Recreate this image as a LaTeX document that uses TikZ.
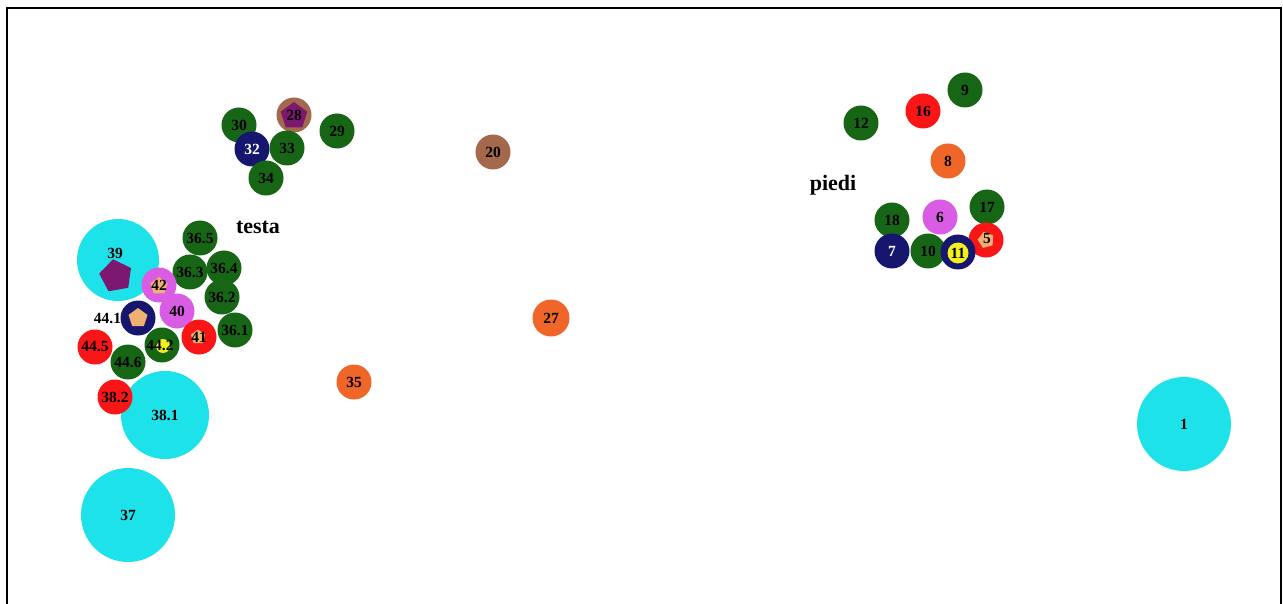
\documentclass[tikz,border=0pt]{standalone}
\usepackage{fontspec}
\setmainfont{Liberation Serif}
\usetikzlibrary{shapes.geometric}
\definecolor{cgreen}{RGB}{22,102,22}
\definecolor{cnavy}{RGB}{22,22,110}
\definecolor{cred}{RGB}{250,22,22}
\definecolor{ccyan}{RGB}{30,226,234}
\definecolor{cviolet}{RGB}{218,92,228}
\definecolor{corange}{RGB}{240,102,40}
\definecolor{cbrown}{RGB}{164,104,76}
\definecolor{cpurple}{RGB}{124,24,112}
\definecolor{cpeach}{RGB}{240,176,112}
\definecolor{cyellow}{RGB}{240,240,30}
\tikzset{
  lbl/.style={font=\bfseries\fontsize{15.5}{16}\selectfont},
  dot/.style={circle, minimum size=35pt, inner sep=0pt, lbl, text=black},
  green/.style={dot, fill=cgreen},
  navy/.style={dot, fill=cnavy, text=white},
  red/.style={dot, fill=cred},
  cyan/.style={dot, fill=ccyan},
  violet/.style={dot, fill=cviolet},
  orange/.style={dot, fill=corange},
  brown/.style={dot, fill=cbrown},
  pent/.style={regular polygon, regular polygon sides=5, inner sep=0pt},
  big/.style={minimum size=#1},
  word/.style={font=\bfseries\fontsize{22}{24}\selectfont}
}
\begin{document}
\begin{tikzpicture}[x=1pt,y=-1pt]
\useasboundingbox (0,0) rectangle (1283,604);
\draw[line width=1.8pt] (7,606) -- (7,8) -- (1281,8) -- (1281,606);
% top-left cluster
\node[green] (n30) at (239,125) {30};
\node[brown] (n28) at (294,115) {};
\node[pent, fill=cpurple, minimum size=28pt] (p28) at (294,116) {};
\node[lbl] (t28) at (294,115) {28};
\node[green] (n29) at (337,131) {29};
\node[navy] (n32) at (252,149) {32};
\node[green] (n33) at (287,148) {33};
\node[green] (n34) at (266,178) {34};
\node[brown] (n20) at (493,152) {20};
\node[word] (testa) at (258,227) {testa};
% left cluster
\node[cyan, big=82pt] (n39) at (118,260) {};
\node[pent, fill=cpurple, minimum size=34pt, rotate=10] (p39) at (116,276) {};
\node[lbl] (t39) at (115,253) {39};
\node[green] (n365) at (200,238) {36.5};
\node[green] (n364) at (224,268) {36.4};
\node[green] (n363) at (190,272) {36.3};
\node[green] (n362) at (222,297) {36.2};
\node[green] (n361) at (235,330) {36.1};
\node[violet] (n42) at (159,285) {};
\node[pent, fill=cpeach, minimum size=18pt] (p42) at (159,286) {};
\node[lbl] (t42) at (159,285) {42};
\node[violet] (n40) at (177,311) {40};
\node[red] (n41) at (199,337) {};
\node[pent, fill=cpeach, minimum size=15pt] (p41) at (198,337) {};
\node[lbl] (t41) at (199,337) {41};
\node[navy, label={[lbl, text=black, inner sep=0pt, xshift=1pt]left:44.1}] (n441) at (138,318) {};
\node[pent, fill=cpeach, minimum size=20pt] (p441) at (138,318) {};
\node[green] (n442) at (162,345) {};
\node[circle, fill=cyellow, minimum size=14pt, inner sep=0pt] (y442) at (163,346) {};
\node[lbl] (t442) at (160,345) {44.2};
\node[red] (n445) at (95,347) {44.5};
\node[cyan, big=88pt] (n381) at (165,415) {38.1};
\node[green] (n446) at (128,362) {44.6};
\node[red] (n382) at (115,397) {38.2};
\node[cyan, big=94pt] (n37) at (128,515) {37};
\node[orange] (n35) at (354,382) {35};
\node[orange, minimum size=37pt] (n27) at (551,318) {27};
\node[cyan, big=94pt] (n1) at (1184,424) {1};
% right cluster
\node[green] (n9) at (965,90) {9};
\node[red] (n16) at (923,111) {16};
\node[green] (n12) at (861,123) {12};
\node[orange] (n8) at (948,161) {8};
\node[word] (piedi) at (833,185) {piedi};
\node[green] (n17) at (987,207) {17};
\node[violet] (n6) at (940,217) {6};
\node[green] (n18) at (892,220) {18};
\node[red] (n5) at (986,240) {};
\node[pent, fill=cpeach, minimum size=17pt, rotate=15] (p5) at (986,240) {};
\node[lbl] (t5) at (987,239) {5};
\node[navy] (n7) at (892,251) {7};
\node[green] (n10) at (928,251) {10};
\node[navy] (n11) at (958,252) {};
\node[circle, fill=cyellow, minimum size=21pt, inner sep=0pt] (y11) at (958,253) {};
\node[lbl] (t11) at (958,253) {11};
\end{tikzpicture}
\end{document}
